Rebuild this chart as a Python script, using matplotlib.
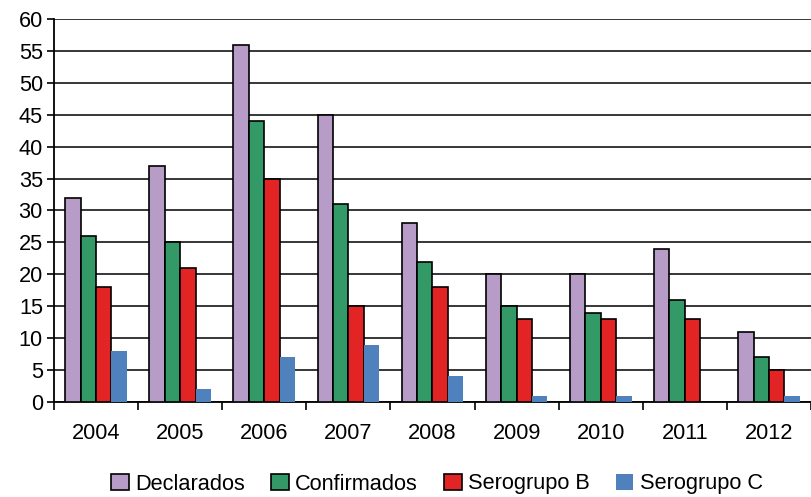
import numpy as np
import matplotlib
matplotlib.use("Agg")
import matplotlib.pyplot as plt
from matplotlib.patches import Patch

plt.rcParams['font.family'] = ['Liberation Sans', 'DejaVu Sans']

# datos
anos = ['2004', '2005', '2006', '2007', '2008', '2009', '2010', '2011', '2012']
declarados = [32, 37, 56, 45, 28, 20, 20, 24, 11]
confirmados = [26, 25, 44, 31, 22, 15, 14, 16, 7]
serogrupo_b = [18, 21, 35, 15, 18, 13, 13, 13, 5]
serogrupo_c = [8, 2, 7, 9, 4, 1, 1, 0, 1]

series = [
    ('Declarados', declarados, '#B79CC8', 'black'),
    ('Confirmados', confirmados, '#339966', 'black'),
    ('Serogrupo B', serogrupo_b, '#E32424', 'black'),
    ('Serogrupo C', serogrupo_c, '#4F81BD', 'none'),
]

fs = 15.7

fig = plt.figure(figsize=(8.11, 4.97), dpi=100)
W, H = 811, 497
ax = fig.add_axes([54 / W, (H - 402) / H, (811 - 54) / W, (402 - 19) / H])

x = np.arange(len(anos))
bw = 0.183
for i, (nombre, vals, color, edge) in enumerate(series):
    ax.bar(x + (i - 1.5) * bw, vals, width=bw, color=color,
           edgecolor=edge, linewidth=1.2, zorder=3)

ax.set_ylim(0, 60)
ax.set_yticks(np.arange(0, 61, 5))
ax.set_xlim(-0.5, -0.5 + (811 - 54) / 84.7)
ax.yaxis.grid(True, color='black', linewidth=1.1, zorder=0)

# ticks del eje x entre grupos, etiquetas centradas
ax.set_xticks(np.arange(-0.5, len(anos), 1.0))
ax.set_xticklabels([])
ax.set_xticks(x, minor=True)
ax.set_xticklabels(anos, minor=True)
ax.tick_params(axis='x', which='major', direction='out', length=6, width=1.2)
ax.tick_params(axis='x', which='minor', length=0, pad=15, labelsize=fs)
ax.tick_params(axis='y', direction='out', length=5, width=1.2, labelsize=fs, pad=3)

for s in ['top', 'right']:
    ax.spines[s].set_visible(False)
for s in ['left', 'bottom']:
    ax.spines[s].set_linewidth(1.3)

handles = [Patch(facecolor=c, edgecolor=e, linewidth=1.2, label=n)
           for n, v, c, e in series]
fig.legend(handles=handles, loc='center', bbox_to_anchor=(0.539, (H - 484) / H),
           ncol=4, frameon=False, fontsize=fs, handlelength=0.8,
           handleheight=0.8, handletextpad=0.3, columnspacing=1.2)

fig.savefig('out.png', dpi=100)
